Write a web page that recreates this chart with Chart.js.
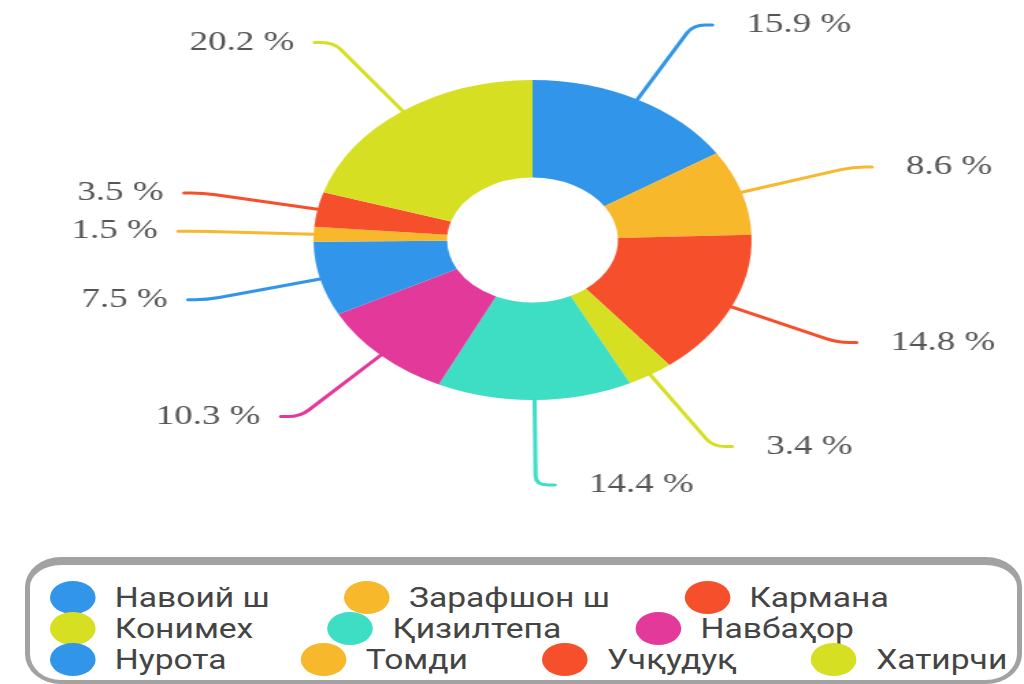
<!DOCTYPE html>
<html>
<head>
<meta charset="utf-8">
<script src="https://cdn.jsdelivr.net/npm/chart.js@4"></script>
<style>
  body { margin: 0; background: #fff; width: 1024px; height: 684px; overflow: hidden; position: relative; }
  /* the source picture is stretched sideways, so the chart is drawn narrow and widened */
  #chart-box { position: absolute; left: 0; top: 0; width: 748px; height: 550px; transform: scaleX(1.369); transform-origin: 0 0; }
  #legend { position: absolute; left: 25px; top: 557px; width: 987px; height: 115px;
            border: 5px solid #a2a2a2; border-top-width: 8px; border-bottom-width: 4px; border-radius: 36px / 30px; }
  #legend-items { position: absolute; left: 20px; top: 17px; width: 875px; display: flex; flex-wrap: wrap;
                  column-gap: 62px; transform: scaleX(1.2); transform-origin: 0 0; }
  .item { display: flex; align-items: center; height: 31px; white-space: nowrap; }
  .dot { width: 38px; height: 33px; border-radius: 50%; margin-right: 16px; flex: none; }
  .name { font: 28px Roboto, sans-serif; color: #444; line-height: 31px; }
</style>
</head>
<body>
<div id="chart-box"><canvas id="my-chart"></canvas></div>
<div id="legend"><div id="legend-items"></div></div>
<script>
const categories = ["Навоий ш", "Зарафшон ш", "Кармана", "Конимех", "Қизилтепа", "Навбаҳор", "Нурота", "Томди", "Учқудуқ", "Хатирчи"];
const shares = [15.9, 8.6, 14.8, 3.4, 14.4, 10.3, 7.5, 1.5, 3.5, 20.2];
const colors = ["#3196e9", "#f7b82c", "#f64f2c", "#d6df22", "#3ddec4", "#e3399b", "#3196e9", "#f7b82c", "#f64f2c", "#d6df22"];

// labels outside the ring with bent leader lines
const calloutLabels = {
    id: "calloutLabels",
    afterDatasetsDraw(chart) {
        const ctx = chart.ctx;
        const meta = chart.getDatasetMeta(0);
        meta.data.forEach((arc, i) => {
            const p = arc.getProps(["x", "y", "startAngle", "endAngle", "outerRadius"], true);
            const mid = (p.startAngle + p.endAngle) / 2;
            const cos = Math.cos(mid);
            const sin = Math.sin(mid);
            const side = cos >= 0 ? 1 : -1;
            const r0 = p.outerRadius;
            const r1 = r0 + 85;
            const ex = p.x + cos * r1;
            const ey = p.y + sin * r1;

            ctx.save();
            ctx.strokeStyle = colors[i];
            ctx.lineWidth = 3;
            ctx.lineCap = "round";
            ctx.beginPath();
            ctx.moveTo(p.x + cos * r0, p.y + sin * r0);
            ctx.lineTo(p.x + cos * (r1 - 9), p.y + sin * (r1 - 9));
            ctx.quadraticCurveTo(ex, ey, ex + side * 9, ey);
            ctx.lineTo(ex + side * 14, ey);
            ctx.stroke();

            ctx.fillStyle = "#555";
            ctx.font = '27px "Liberation Serif"';
            ctx.textBaseline = "middle";
            ctx.textAlign = side > 0 ? "left" : "right";
            ctx.fillText(shares[i].toFixed(1) + " %", ex + side * (side > 0 ? 39 : 29), ey);
            ctx.restore();
        });
    },
};

const ctx = document.getElementById("my-chart").getContext("2d");
const chart = new Chart(ctx, {
    type: "doughnut",
    data: {
        labels: categories,
        datasets: [
            {
                data: shares,
                backgroundColor: colors,
                borderWidth: 0,
                hoverOffset: 0,
            },
        ],
    },
    options: {
        responsive: true,
        maintainAspectRatio: false,
        animation: false,
        cutout: "39%",
        layout: { padding: { left: 229, right: 199, top: 80, bottom: 150 } },
        plugins: {
            legend: { display: false },
            tooltip: { enabled: false },
        },
    },
    plugins: [calloutLabels],
});

// legend built from the chart's own labels and colours
const legendBox = document.getElementById("legend-items");
chart.data.labels.forEach((label, i) => {
    const item = document.createElement("div");
    item.className = "item";
    const dot = document.createElement("span");
    dot.className = "dot";
    dot.style.background = chart.data.datasets[0].backgroundColor[i];
    const name = document.createElement("span");
    name.className = "name";
    name.textContent = label;
    item.appendChild(dot);
    item.appendChild(name);
    legendBox.appendChild(item);
});
</script>
</body>
</html>
